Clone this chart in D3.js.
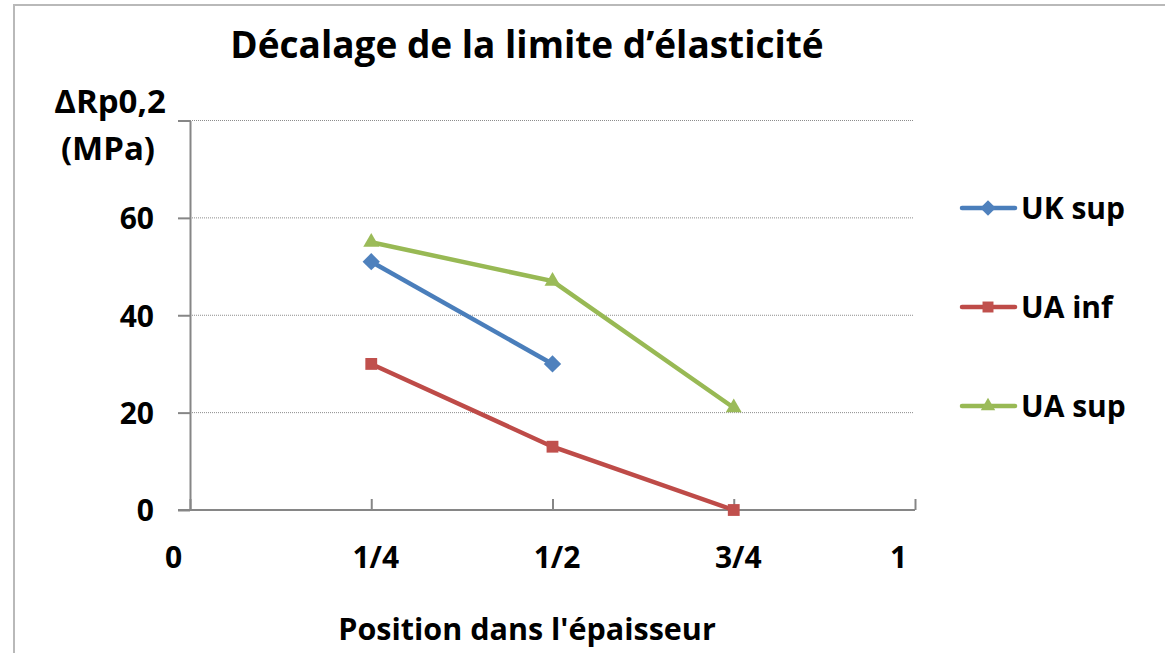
<!DOCTYPE html>
<html>
<head>
<meta charset="utf-8">
<script src="https://cdn.jsdelivr.net/npm/d3@7"></script>
<style>
  body { margin: 0; background: #fff; }
  svg text { font-family: "Open Sans", Lato, sans-serif; font-weight: 700; fill: #000; }
  .axis path, .axis line { stroke: #868686; stroke-width: 2; }
  .grid line { stroke: #8c8c8c; stroke-width: 1; stroke-dasharray: 1,1; }
</style>
</head>
<body>
<div id="chart-area"></div>
<script>
var positions = [0.25, 0.5, 0.75];
var ukSup = [51, 30, null];
var uaInf = [30, 13, 0];
var uaSup = [55, 47, 21];
var seriesNames = ["UK sup", "UA inf", "UA sup"];
var xTicks = [0, 0.25, 0.5, 0.75, 1];
var xTickLabels = ["0", "1/4", "1/2", "3/4", "1"];
var yTicks = [0, 20, 40, 60, 80];
var yTickLabels = ["0", "20", "40", "60", ""];

var width = 1165, height = 653;
var margin = {top: 120.5, right: 250, bottom: 143, left: 190};

var svg = d3.select("#chart-area")
    .append("svg")
    .attr("width", width)
    .attr("height", height);

// chart frame (only top and left edges are visible in the crop)
svg.append("rect")
    .attr("x", 14).attr("y", 5)
    .attr("width", 1200).attr("height", 700)
    .attr("fill", "none")
    .attr("stroke", "#b9b9b9")
    .attr("stroke-width", 2);

var x = d3.scaleLinear().domain([0, 1]).range([margin.left, 915]);
var y = d3.scaleLinear().domain([0, 80]).range([510, margin.top]);

// gridlines
svg.append("g")
    .attr("class", "grid")
    .selectAll("line")
    .data(yTicks.slice(1))
    .enter()
    .append("line")
    .attr("x1", x(0)).attr("x2", 913)
    .attr("y1", d => y(d)).attr("y2", d => y(d));

// y axis: outer ticks to the left
var yAxis = svg.append("g")
    .attr("class", "axis")
    .attr("transform", "translate(" + x(0) + ",0)")
    .call(d3.axisLeft(y).tickValues(yTicks).tickSize(12).tickSizeOuter(0)
        .tickFormat((d, i) => yTickLabels[i]));
yAxis.selectAll("text")
    .attr("font-size", 30)
    .attr("x", -36)
    .attr("dy", "0.36em");

// x axis: inner ticks going up
var xAxis = svg.append("g")
    .attr("class", "axis")
    .attr("transform", "translate(0," + y(0) + ")")
    .call(d3.axisBottom(x).tickValues(xTicks).tickSize(-11).tickSizeOuter(0)
        .tickFormat((d, i) => xTickLabels[i]));
xAxis.select(".domain").attr("d", "M" + (x(0) - 12) + ",0H" + x(1));
xAxis.selectAll("text")
    .attr("font-size", 30)
    .attr("y", 58)
    .attr("dy", 0)
    .attr("dx", (d, i) => (i === 0 || i === xTicks.length - 1) ? -17 : 4);

var colors = ["#4a7ebb", "#be4b48", "#98b954"];
var markerColors = ["#4f81bd", "#c0504d", "#9bbb59"];
var allSeries = [ukSup, uaInf, uaSup];

var line = d3.line()
    .defined(d => d.v !== null)
    .x(d => x(d.p))
    .y(d => y(d.v));

var symbols = [
    d3.symbol().type(d3.symbolSquare).size(150),
    d3.symbol().type(d3.symbolSquare).size(140),
    d3.symbol().type(d3.symbolTriangle).size(110)
];
var rotations = [45, 0, 0];

allSeries.forEach(function(vals, si) {
    var pts = positions.map((p, i) => ({p: p, v: vals[i]}));
    svg.append("path")
        .datum(pts)
        .attr("fill", "none")
        .attr("stroke", colors[si])
        .attr("stroke-width", 4.5)
        .attr("d", line);
    svg.selectAll(".m" + si)
        .data(pts.filter(d => d.v !== null))
        .enter()
        .append("path")
        .attr("class", "m" + si)
        .attr("d", symbols[si])
        .attr("fill", markerColors[si])
        .attr("transform", d => "translate(" + x(d.p) + "," + y(d.v) + ") rotate(" + rotations[si] + ")");
});

// legend
var legendY = d3.scalePoint().domain(seriesNames).range([208, 406]);
var legend = svg.append("g");
seriesNames.forEach(function(name, si) {
    var ly = legendY(name);
    legend.append("line")
        .attr("x1", 962).attr("x2", 1015)
        .attr("y1", ly).attr("y2", ly)
        .attr("stroke", colors[si])
        .attr("stroke-width", 4.5)
        .attr("stroke-linecap", "round");
    legend.append("path")
        .attr("d", d3.symbol().type(si === 2 ? d3.symbolTriangle : d3.symbolSquare).size(si === 2 ? 90 : 120))
        .attr("fill", markerColors[si])
        .attr("transform", "translate(988," + ly + ") rotate(" + rotations[si] + ")");
    legend.append("text")
        .attr("x", 1021)
        .attr("y", ly + 11)
        .attr("font-size", 30)
        .text(name);
});

// titles
svg.append("text")
    .attr("x", 527)
    .attr("y", 58)
    .attr("text-anchor", "middle")
    .attr("font-size", 37)
    .text("Décalage de la limite d’élasticité");

svg.append("text")
    .attr("x", 110)
    .attr("y", 113)
    .attr("text-anchor", "middle")
    .attr("font-size", 33)
    .text("ΔRp0,2");
svg.append("text")
    .attr("x", 108)
    .attr("y", 160)
    .attr("text-anchor", "middle")
    .attr("font-size", 33)
    .text("(MPa)");

svg.append("text")
    .attr("x", 527)
    .attr("y", 640)
    .attr("text-anchor", "middle")
    .attr("font-size", 30.5)
    .text("Position dans l'épaisseur");
</script>
</body>
</html>
